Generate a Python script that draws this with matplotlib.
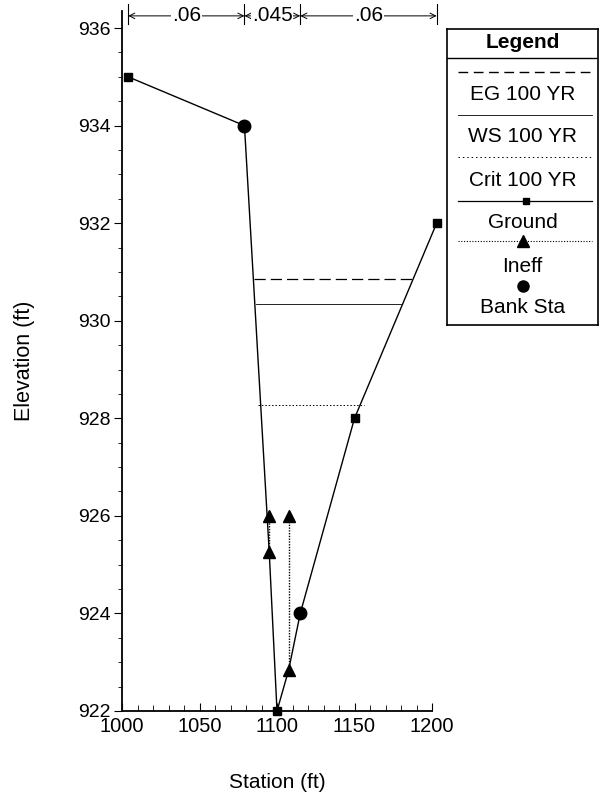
import matplotlib
matplotlib.use("Agg")
import matplotlib.pyplot as plt
from matplotlib.ticker import MultipleLocator

plt.rcParams['font.family'] = ['Liberation Sans', 'DejaVu Sans']

# ground profile
ground_sta = [1004, 1079, 1095, 1100, 1107.5, 1115, 1150, 1203]
ground_elev = [935, 934, 925.25, 922, 922.84, 924, 928, 932]
ground_marks = [0, 3, 6, 7]

bank_sta = [1079, 1115]
bank_elev = [934, 924]

# ineffective flow areas (station, bottom, top)
ineff_sta = [1095, 1107.5]
ineff_low = [925.25, 922.84]
ineff_high = [926, 926]

# water surfaces: elevation, left station, right station
eg_elev, eg_sta = 930.85, [1085, 1187.5]
ws_elev, ws_sta = 930.34, [1086.5, 1180]
crit_elev, crit_sta = 928.27, [1087.5, 1156]

# manning's n
n_vals = [".06", ".045", ".06"]
n_breaks = [1004, 1079, 1115, 1203]

fig = plt.figure(figsize=(6.04, 7.94), dpi=100)
ax = fig.add_axes([122/604, 83/794, 310/604, 700/794])

ax.plot(eg_sta, [eg_elev, eg_elev], color='black', lw=0.9, ls=(0, (9, 4)))
ax.plot(ws_sta, [ws_elev, ws_elev], color='black', lw=0.6)
ax.plot(crit_sta, [crit_elev, crit_elev], color='black', lw=0.7, ls=(0, (1.5, 2)))

ax.plot(ground_sta, ground_elev, color='black', lw=1.0, marker='s', ms=5.5,
        markevery=ground_marks, clip_on=False, zorder=3)
for s, lo, hi in zip(ineff_sta, ineff_low, ineff_high):
    ax.plot([s, s], [lo, hi], color='black', lw=1.0, ls=(0, (1, 1)),
            marker='^', ms=8, zorder=4)
ax.plot(bank_sta, bank_elev, ls='none', marker='o', ms=9, color='black', zorder=5)

ax.set_xlim(1000, 1200)
ax.set_ylim(922, 936.35)
ax.xaxis.set_major_locator(MultipleLocator(50))
ax.xaxis.set_minor_locator(MultipleLocator(10))
ax.yaxis.set_major_locator(MultipleLocator(2))
ax.yaxis.set_minor_locator(MultipleLocator(0.5))
ax.tick_params(axis='x', which='both', direction='in', labelsize=14.5, pad=4)
ax.tick_params(axis='x', which='major', length=6)
ax.tick_params(axis='x', which='minor', length=4)
ax.tick_params(axis='y', which='both', direction='out', labelsize=14, pad=2)
ax.tick_params(axis='y', which='major', length=6)
ax.tick_params(axis='y', which='minor', length=3)
for side in ['top', 'right']:
    ax.spines[side].set_visible(False)
for side in ['left', 'bottom']:
    ax.spines[side].set_linewidth(1.3)
ax.set_xlabel("Station (ft)", fontsize=15, labelpad=27)
ax.set_ylabel("Elevation (ft)", fontsize=15.5, labelpad=31)

# n-value arrows across the top
arrow_y = 936.25
for b in n_breaks:
    ax.plot([b, b], [936.08, 936.5], color='black', lw=0.8, clip_on=False)
for i, label in enumerate(n_vals):
    a, b = n_breaks[i], n_breaks[i + 1]
    ax.annotate('', xy=(a, arrow_y), xytext=(b, arrow_y),
                arrowprops=dict(arrowstyle='<->', lw=0.7, color='black',
                                shrinkA=0, shrinkB=0, mutation_scale=10),
                annotation_clip=False)
    ax.text((a + b) / 2, arrow_y, label, ha='center', va='center', fontsize=15,
            bbox=dict(facecolor='white', edgecolor='none', pad=0.5), clip_on=False)

# legend panel
lg = fig.add_axes([447/604, 1 - 325/794, 151/604, 296/794])
lg.set_xlim(0, 1)
lg.set_ylim(325, 29)
lg.set_xticks([])
lg.set_yticks([])
for sp in lg.spines.values():
    sp.set_linewidth(1.2)
lg.axhline(58, color='black', lw=1.0)
fs = 15
lg.text(0.5, 43, "Legend", ha='center', va='center', fontsize=15, fontweight='bold')
lg.plot([0.07, 0.96], [72, 72], color='black', lw=1.0, ls=(0, (7, 4)))
lg.text(0.5, 94, "EG 100 YR", ha='center', va='center', fontsize=fs)
lg.plot([0.07, 0.96], [115, 115], color='black', lw=0.6)
lg.text(0.5, 137, "WS 100 YR", ha='center', va='center', fontsize=fs)
lg.plot([0.07, 0.96], [157, 157], color='black', lw=0.7, ls=(0, (1.5, 3)))
lg.text(0.5, 181, "Crit 100 YR", ha='center', va='center', fontsize=fs)
lg.plot([0.07, 0.96], [201, 201], color='black', lw=0.9)
lg.plot([0.52], [201], marker='s', ms=5, color='black')
lg.text(0.5, 222, "Ground", ha='center', va='center', fontsize=fs)
lg.plot([0.07, 0.96], [241, 241], color='black', lw=0.8, ls=(0, (1, 1.5)))
lg.plot([0.5], [241], marker='^', ms=8, color='black')
lg.text(0.5, 266, "Ineff", ha='center', va='center', fontsize=fs)
lg.plot([0.5], [286], marker='o', ms=8, color='black')
lg.text(0.5, 307, "Bank Sta", ha='center', va='center', fontsize=fs)

fig.savefig("out.png", dpi=100)
